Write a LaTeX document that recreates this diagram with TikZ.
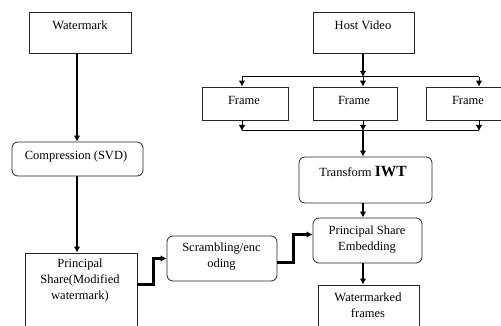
\documentclass[tikz,border=0pt]{standalone}
\usepackage{fontspec}
\setmainfont{Liberation Serif}
\usetikzlibrary{arrows.meta,calc}
\begin{document}
\begin{tikzpicture}[x=1pt,y=-1pt,
  box/.style={draw=black!85,line width=0.8pt,inner sep=0pt,fill=white},
  rbox/.style={box,rounded corners=6pt},
  txt/.style={align=center,inner sep=0pt,font=\fontsize{12.5}{16}\selectfont},
  thk/.style={line width=2.3pt,-{Latex[length=6pt,width=6.5pt]}},
  thn/.style={line width=1pt,-{Latex[length=6pt,width=6.5pt]}},
  ln/.style={line width=1pt}]
\useasboundingbox (0,0) rectangle (501,326);
\clip (0,0) rectangle (501,326);
% boxes
\node[box,minimum width=102pt,minimum height=41pt] (wm) at (80,32.5) {};
\node[box,minimum width=101pt,minimum height=41pt] (host) at (363.5,32.5) {};
\node[box,minimum width=86pt,minimum height=33pt] (f1) at (245,103.5) {};
\node[box,minimum width=84pt,minimum height=33pt] (f2) at (355,103.5) {};
\node[box,minimum width=94pt,minimum height=33pt] (f3) at (473,103.5) {};
\node[rbox,minimum width=131pt,minimum height=34pt] (comp) at (77.5,159) {};
\node[rbox,minimum width=133pt,minimum height=46pt] (trans) at (365.5,180) {};
\node[rbox,minimum width=109pt,minimum height=45pt] (pse) at (367.5,240.5) {};
\node[rbox,minimum width=110pt,minimum height=45pt] (scr) at (222,258.5) {};
\node[box,minimum width=112pt,minimum height=87pt] (ps) at (81,296.5) {};
\node[box,minimum width=101pt,minimum height=55pt] (wf) at (368.5,312.5) {};
% texts
\node[txt] (twm) at (80,25) {Watermark};
\node[txt] (thost) at (363,25) {Host Video};
\node[txt] (tf1) at (244,100) {Frame};
\node[txt] (tf2) at (354,100) {Frame};
\node[txt] (tf3) at (468,100) {Frame};
\node[txt] (tcomp) at (76,156) {Compression (SVD)};
\node[txt] (ttrans) at (363,172) {Transform \textbf{\fontsize{15.5}{16}\selectfont IWT}};
\node[txt] (tpse) at (367,239.5) {Principal Share\\Embedding};
\node[txt] (tscr) at (221.5,256.5) {Scrambling/enc\\oding};
\node[txt] (tps) at (80,280.5) {Principal\\Share(Modified\\watermark)};
\node[txt] (twf) at (368,305) {Watermarked\\frames};
% coordinates for splitting/merging
\coordinate (t1) at (242,77);
\coordinate (t2) at (363,77);
\coordinate (t3) at (479,77);
\coordinate (b1) at (242,131);
\coordinate (b2) at (363,131);
\coordinate (b3) at (479,131);
\coordinate (lx) at (77,0);
\coordinate (pse-out) at ($(ps.north east)+(0,32)$);
\coordinate (scr-out) at ($(scr.east)+(0,4)$);
\coordinate (pse-in) at ($(pse.west)+(0,-6)$);
% connectors
\draw[thk] (wm.south -| lx) -- (lx |- comp.north);
\draw[thk] (comp.south -| lx) -- (lx |- ps.north);
\draw[thk] (pse-out) -- ++(16,0) |- (scr.west);
\draw[thk] (scr-out) -- ++(16,0) |- (pse-in);
\draw[thk] (trans.south -| b2) -- (b2 |- pse.north);
\draw[thk] (pse.south -| b2) -- (b2 |- wf.north);
\draw[thk] (host.south -| t2) -- (t2);
\draw[ln] (t1) -- (t3);
\draw[thn] (t1) -- (t1 |- f1.north);
\draw[thn] (t2) -- (t2 |- f2.north);
\draw[thn] (t3) -- (t3 |- f3.north);
\draw[thn] (b1 |- f1.south) -- (b1);
\draw[thn] (b2 |- f2.south) -- (b2);
\draw[thn] (b3 |- f3.south) -- (b3);
\draw[ln] (b1) -- (b3);
\draw[thk] (b2) -- (b2 |- trans.north);
\end{tikzpicture}
\end{document}
